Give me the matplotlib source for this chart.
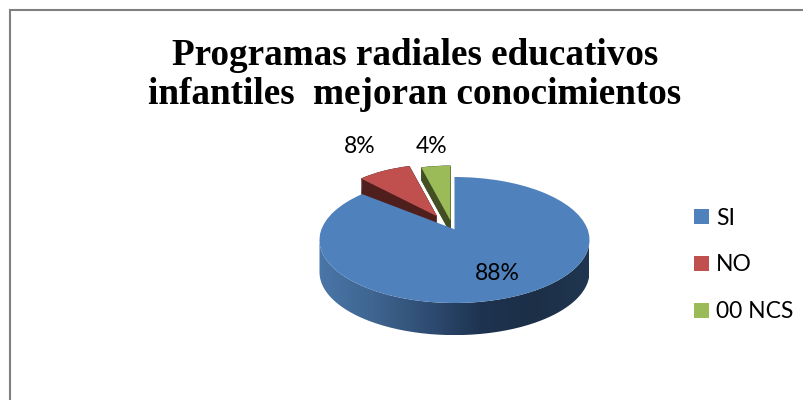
import numpy as np
import matplotlib
matplotlib.use('Agg')
import matplotlib.pyplot as plt
from matplotlib.colors import LinearSegmentedColormap
from matplotlib.patches import PathPatch, Rectangle
from matplotlib.path import Path

# Datos del grafico
categorias = ['SI', 'NO', '00 NCS']
valores = [88, 8, 4]
colores = ['#4f81bd', '#c0504d', '#9bbb59']
oscuros = ['#1c2f47', '#4f1f1d', '#414f23']
titulo = 'Programas radiales educativos\ninfantiles  mejoran conocimientos'

W, H = 804, 400
fig = plt.figure(figsize=(W / 100, H / 100), dpi=100, facecolor='white')

# Marco gris (solo se ven el borde izquierdo y el superior)
fig.add_artist(Rectangle((10 / W, -0.1), 1.1, 0.1 + (H - 10) / H,
                         transform=fig.transFigure, fill=False,
                         edgecolor='#808080', linewidth=1.5))

fig.text(415 / W, 1 - 75 / H, titulo, ha='center', va='center',
         family='Liberation Serif', weight='bold', fontsize=26.7, linespacing=1.17)

# Ejes achatados: un circulo unitario queda como elipse de 135x63 px
rx, ry = 135, 63
lim = 1.7
cx, cy = 454.5, 240
ax = fig.add_axes([(cx - rx * 1.3) / W, (H - cy - ry * lim) / H,
                   rx * 2.6 / W, ry * 2 * lim / H])
ax.axis('off')

wedges, _ = ax.pie(valores, colors=colores, startangle=90, counterclock=False,
                   explode=[0, 0.27, 0.24], radius=1,
                   wedgeprops={'linewidth': 0})

# El vertice del pastel sube por la perspectiva
subidas = [0.17, 0.14, 0.07]
escalas = [1, 0.82, 0.87]
for w, esc, sube in zip(wedges, escalas, subidas):
    p = w.get_path()
    c = np.array(w.center)
    if esc == 1:
        cerca = np.hypot(*(p.vertices - c).T) < 1e-6
        p.vertices[cerca, 1] += sube
    else:
        p.vertices[:] = c + (p.vertices - c) * esc + [0, sube]

# Pared lateral del sector azul con degradado
prof = 0.51
t = np.linspace(np.pi, 2 * np.pi, 200)
borde = np.r_[np.c_[np.cos(t), np.sin(t)],
              np.c_[np.cos(t[::-1]), np.sin(t[::-1]) - prof]]
pared = PathPatch(Path(borde), transform=ax.transData, fc='none', ec='none')
ax.add_patch(pared)
cmap = LinearSegmentedColormap.from_list('pared', ['#4a76a8', '#3f6590', '#2f4d73', '#1e3350', '#1c2f47', '#203650'])
img = ax.imshow(np.linspace(0, 1, 256)[None, :], cmap=cmap, aspect='auto',
                extent=(-1, 1, -1 - prof, 1), zorder=1)
img.set_clip_path(pared)
ax.set_aspect('auto')
ax.set_xlim(-1.3, 1.3)
ax.set_ylim(-lim, lim)

# Caras oscuras de los sectores separados
wedges[0].set_zorder(6)
for i, z, fondo in ((1, 2, 0.32), (2, 4, 0.2)):
    wedges[i].set_zorder(z + 1)
    base = wedges[i].get_path()
    for d in np.linspace(0, fondo, 20):
        ax.add_patch(PathPatch(Path(base.vertices - [0, d], base.codes),
                               fc=oscuros[i], ec=oscuros[i], lw=0.3, zorder=z))

# Etiquetas de porcentaje
for v, (px, py) in zip(valores, [(497, 274), (360, 147), (432, 147)]):
    fig.text(px / W, 1 - py / H, f'{v}%', ha='center', va='center',
             family='Lato', fontsize=16.5, color='black')

leg = fig.legend(wedges, categorias, loc='upper left', bbox_to_anchor=(689 / W, 1 - 203 / H),
                 frameon=False, prop={'family': 'Lato', 'size': 16.5},
                 handlelength=0.67, handleheight=0.67, handletextpad=0.3,
                 labelspacing=1.13, borderpad=0.2, borderaxespad=0)

fig.savefig('out.png', dpi=100, facecolor='white')
